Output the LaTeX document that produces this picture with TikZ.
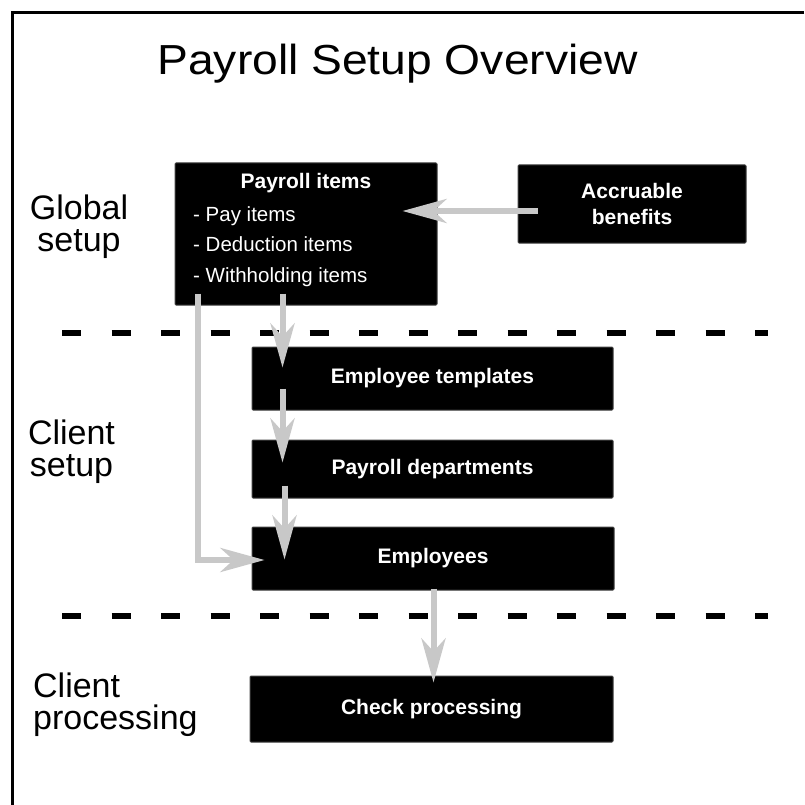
\documentclass[tikz,border=0pt]{standalone}
\usepackage{fontspec}
\usepackage{graphicx}
\setmainfont{Liberation Sans}
\usetikzlibrary{arrows.meta,calc}
\definecolor{arrgray}{RGB}{200,200,200}
\begin{document}
\begin{tikzpicture}[x=1pt,y=-1pt,
  box/.style={draw=black!75,line width=1pt,fill=black,rounded corners=1pt,inner sep=0pt,
    text=white,font=\fontsize{21}{26}\selectfont\bfseries,align=center},
  itemtext/.style={text=white,inner sep=0pt,anchor=base west,font=\fontsize{20.5}{24}\selectfont},
  sidelabel/.style={inner sep=0pt,font=\fontsize{34}{32}\selectfont},
  arr/.style={draw=arrgray,line width=6pt,
    -{Stealth[length=44pt,width=24pt,inset=13pt,fill=arrgray,color=arrgray]}},
  sep/.style={line width=6pt,dash pattern=on 19pt off 30.5pt}
]
\useasboundingbox (0,0) rectangle (804,805);
% frame (top and left edges)
\draw[line width=3.5pt] (804,12.7) -- (12.7,12.7) -- (12.7,805);

% title
\node[inner sep=0pt,anchor=base] (title) at (397.5,75)
  {\scalebox{1.1}[1]{\fontsize{42}{48}\selectfont Payroll Setup Overview}};

% side labels
\node[sidelabel,align=center] (glob) at (79,227) {Global\\setup};
\node[sidelabel,align=center] (cset) at (71.5,452) {Client\\setup};
\node[sidelabel,align=left,anchor=west] (cproc) at (33,705) {Client\\processing};

% separators
\draw[sep] (62,333) -- (768,333);
\draw[sep] (62,616) -- (768,616);

% boxes
\node[box,minimum width=262pt,minimum height=142pt] (pay) at (306,234) {};
\node[text=white,inner sep=0pt,anchor=base,font=\fontsize{21}{26}\selectfont\bfseries] (payh) at (306,189) {Payroll items};
\node[itemtext] (pi1) at (193,221) {- Pay items};
\node[itemtext] (pi2) at (193,251) {- Deduction items};
\node[itemtext] (pi3) at (193,282) {- Withholding items};

\node[box,minimum width=228pt,minimum height=78pt] (acc) at (632,204) {Accruable\\benefits};
\node[box,minimum width=361pt,minimum height=63pt] (tmpl) at (432.5,378.5) {Employee templates};
\node[box,minimum width=361pt,minimum height=58pt] (dept) at (432.5,469) {Payroll departments};
\node[box,minimum width=362pt,minimum height=63pt] (emp) at (433,558.5) {Employees};
\node[box,minimum width=363pt,minimum height=66pt] (chk) at (431.5,709) {Check processing};

% connectors
\draw[arr] ($(acc.west)+(20,7)$) -- ($(pay.east)+(-35,-23)$);
\draw[arr] ($(pay.south west)+(108,-12)$) -- ($(tmpl.north west)+(31,21)$);
\draw[arr] ($(tmpl.south west)+(31,-22)$) -- ($(dept.north west)+(31,23)$);
\draw[arr] ($(dept.south west)+(33,-13)$) -- ($(emp.north west)+(33,33)$);
\draw[arr] ($(pay.south west)+(23,-12)$) |- ($(emp.west)+(13,1.5)$);
\draw[arr] ($(emp.south west)+(182,-2)$) -- ($(chk.north west)+(184,7)$);
\end{tikzpicture}
\end{document}
